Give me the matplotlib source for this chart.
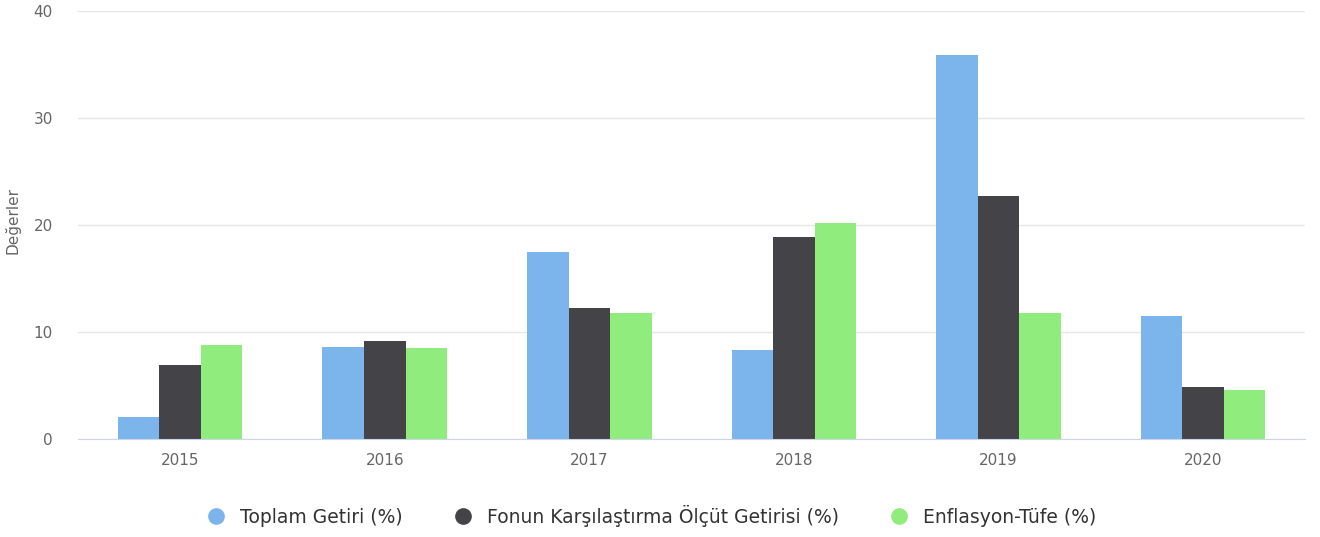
import numpy as np
import matplotlib.pyplot as plt
from matplotlib.lines import Line2D

years = ['2015', '2016', '2017', '2018', '2019', '2020']
toplam = [2.05, 8.6, 17.5, 8.3, 35.9, 11.5]
olcut = [6.9, 9.15, 12.2, 18.85, 22.7, 4.85]
enflasyon = [8.8, 8.5, 11.8, 20.2, 11.8, 4.6]

names = ['Toplam Getiri (%)', 'Fonun Karşılaştırma Ölçüt Getirisi (%)', 'Enflasyon-Tüfe (%)']
colors = ['#7cb5ec', '#434348', '#90ed7d']

fig = plt.figure(figsize=(13.2, 5.37), dpi=100)
ax = fig.add_axes([0.059, 0.1825, 0.93, 0.797])

x = np.arange(len(years))
w = 0.203
for i, (vals, c) in enumerate(zip([toplam, olcut, enflasyon], colors)):
    ax.bar(x + (i - 1) * w, vals, width=w, color=c, zorder=3, linewidth=0)

ax.set_xlim(-0.5, len(years) - 0.5)
ax.set_ylim(0, 40)
ax.set_yticks([0, 10, 20, 30, 40])
ax.set_xticks(x)
ax.set_xticklabels(years)
ax.grid(axis='y', color='#e6e6e6', linewidth=1, zorder=0)
for s in ['top', 'right', 'left']:
    ax.spines[s].set_visible(False)
ax.spines['bottom'].set_color('#ccd6eb')
ax.spines['bottom'].set_zorder(4)
ax.tick_params(axis='y', length=0, labelsize=11, labelcolor='#666666', pad=18)
ax.tick_params(axis='x', length=0, labelsize=11, labelcolor='#666666', pad=10)
ax.set_ylabel('Değerler', fontsize=11, color='#666666')
ax.yaxis.set_label_coords(-0.047, 0.51)

handles = [Line2D([0], [0], marker='o', linestyle='', markersize=11, color=c) for c in colors]
fig.legend(handles, names, loc='center', bbox_to_anchor=(0.49, 0.04), ncol=3,
           frameon=False, fontsize=13.5, labelcolor='#333333', handletextpad=0.3,
           columnspacing=2.2)

fig.savefig('out.png', dpi=100)
